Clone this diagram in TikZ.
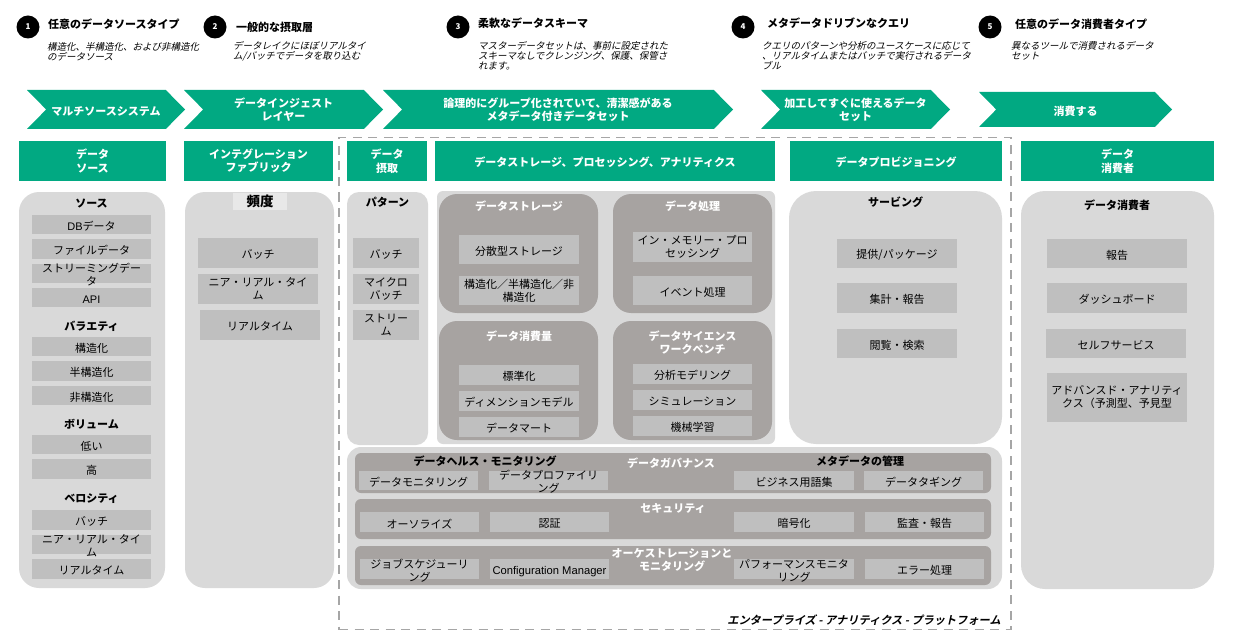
\documentclass[tikz,border=0pt]{standalone}
\usepackage{fontspec}
\setmainfont{Noto Sans CJK JP}
\newfontfamily\slantfont{Noto Sans CJK JP}[FakeSlant=0.22]
\newfontfamily\slantboldfont{Noto Sans CJK JP Bold}[FakeSlant=0.22]
\newfontfamily\latinfont{Liberation Sans}
\usepackage{xcolor}
\usetikzlibrary{positioning, shapes.symbols}
\definecolor{bandgreen}{HTML}{01A982}
\definecolor{panelgray}{HTML}{D9D9D9}
\definecolor{cellgray}{HTML}{BFBFBF}
\definecolor{darkgray}{HTML}{A7A3A1}
\definecolor{dashgray}{HTML}{A6A6A6}
\newcommand{\overcell}[2]{\raisebox{0.4pt}[0pt][0pt]{\begin{tabular}{@{}c@{}}#1\\#2\end{tabular}}}

\begin{document}
\begin{tikzpicture}[
  x=1pt, y=1pt,
  node distance=4.5pt,
  lowtext/.style={execute at begin node=\rule{0pt}{12.5pt}},
  stepnum/.style={circle, fill=black, text=white, minimum size=23pt, inner sep=0pt,
    font=\fontsize{8}{9}\selectfont\bfseries},
  steptitle/.style={anchor=west, inner sep=0pt, font=\fontsize{11}{12}\selectfont\bfseries},
  stepnote/.style={anchor=north west, inner sep=0pt, align=left,
    font=\fontsize{9.5}{10.3}\slantfont},
  chevron/.style={signal, signal from=west, signal to=east, signal pointer angle=91,
    fill=bandgreen, text=white, inner sep=0pt, minimum height=39pt, align=center, lowtext,
    font=\fontsize{11}{13.5}\selectfont\bfseries},
  band/.style={rectangle, fill=bandgreen, text=white, inner sep=0pt, minimum height=40pt,
    align=center, lowtext, font=\fontsize{11}{13.5}\selectfont\bfseries},
  panel/.style={rectangle, fill=panelgray, inner sep=0pt},
  darkpanel/.style={rectangle, fill=darkgray, rounded corners=18pt, minimum width=159pt,
    minimum height=119pt, inner sep=0pt},
  strip/.style={rectangle, fill=darkgray, rounded corners=6pt, minimum width=636pt,
    minimum height=40pt, inner sep=0pt},
  heading/.style={inner sep=0pt, align=center, font=\fontsize{11}{13}\selectfont\bfseries},
  darkheading/.style={heading, text=white},
  cell/.style={rectangle, fill=cellgray, inner sep=0pt, align=center, lowtext,
    font=\fontsize{11}{13}\selectfont},
  srccell/.style={cell, minimum width=119pt, minimum height=19.5pt},
  tallcell/.style={cell, minimum width=120pt, minimum height=29.5pt},
  flatcell/.style={cell, minimum width=120pt, minimum height=19.5pt},
  gridcell/.style={flatcell, minimum width=119.5pt},
  usecell/.style={cell, minimum width=140pt, minimum height=29.5pt}
]
  \useasboundingbox (0,0) rectangle (1233,-639);

  % numbered notes
  \node[stepnum] (num1) at (28,-27) {1};
  \node[stepnum] (num2) at (215,-27) {2};
  \node[stepnum] (num3) at (458,-27) {3};
  \node[stepnum] (num4) at (743,-27) {4};
  \node[stepnum] (num5) at (990,-27) {5};
  \node[steptitle] (title1) at (48,-24) {任意のデータソースタイプ};
  \node[steptitle] (title2) at (236,-27) {一般的な摂取層};
  \node[steptitle] (title3) at (478,-23) {柔軟なデータスキーマ};
  \node[steptitle] (title4) at (767,-23) {メタデータドリブンなクエリ};
  \node[steptitle] (title5) at (1015,-24) {任意のデータ消費者タイプ};
  \node[stepnote] (note1) at (47,-42) {構造化、半構造化、および非構造化\\のデータソース};
  \node[stepnote] (note2) at (233,-41) {データレイクにほぼリアルタイ\\ム/バッチでデータを取り込む};
  \node[stepnote] (note3) at (478,-41) {マスターデータセットは、事前に設定された\\スキーマなしでクレンジング、保護、保管さ\\れます。};
  \node[stepnote] (note4) at (762,-41) {クエリのパターンや分析のユースケースに応じて\\、リアルタイムまたはバッチで実行されるデータ\\ブル};
  \node[stepnote] (note5) at (1011,-41) {異なるツールで消費されるデータ\\セット};

  % chevrons
  \node[chevron, minimum width=158pt] (flow1) at (106,-109.5) {マルチソースシステム};
  \node[chevron, minimum width=199pt] (flow2) at (283.5,-109.5) {データインジェスト\\レイヤー};
  \node[chevron, minimum width=350pt] (flow3) at (558,-109.5) {論理的にグループ化されていて、清潔感がある\\メタデータ付きデータセット};
  \node[chevron, minimum width=189pt] (flow4) at (855.5,-109.5) {加工してすぐに使えるデータ\\セット};
  \node[chevron, minimum width=193pt, minimum height=35pt] (flow5) at (1075.5,-109.5) {消費する};

  % platform frame
  \node[rectangle, draw=dashgray, line width=1.5pt, dash pattern=on 9pt off 6.5pt, inner sep=0pt,
    minimum width=672pt, minimum height=492pt] (platform) at (675,-383.5) {};
  \node[anchor=east, inner sep=0pt, font=\fontsize{11.2}{13}\slantboldfont] (platformname)
    at (1001,-620) {エンタープライズ - アナリティクス - プラットフォーム};

  % column bands
  \node[band, minimum width=147pt] (bandsrc) at (92.5,-161) {データ\\ソース};
  \node[band, minimum width=149pt] (bandfab) at (258.5,-161) {インテグレーション\\ファブリック};
  \node[band, minimum width=80pt] (bandingest) at (387,-161) {データ\\摂取};
  \node[band, minimum width=340pt] (bandstore) at (605,-161) {データストレージ、プロセッシング、アナリティクス};
  \node[band, minimum width=212pt] (bandprov) at (896,-161) {データプロビジョニング};
  \node[band, minimum width=193pt] (banduse) at (1117.5,-161) {データ\\消費者};

  % source column
  \node[panel, rounded corners=20pt, minimum width=146pt, minimum height=396pt] (srcpanel) at (92,-390) {};
  \node[heading] (srchead) at (91.5,-203.5) {ソース};
  \node[srccell] (srcdb) at (91.5,-224.5) {{\latinfont DB}データ};
  \node[srccell, below=of srcdb] (srcfile) {ファイルデータ};
  \node[srccell, below=of srcfile] (srcstream) {\overcell{ストリーミングデー}{タ}};
  \node[srccell, below=of srcstream] (srcapi) {{\latinfont API}};
  \node[heading] (varhead) at (91.5,-326.5) {バラエティ};
  \node[srccell] (varstruct) at (91.5,-346.5) {構造化};
  \node[srccell, below=of varstruct] (varsemi) {半構造化};
  \node[srccell, below=of varsemi] (varnon) {非構造化};
  \node[heading] (volhead) at (91.5,-424.5) {ボリューム};
  \node[srccell] (vollow) at (91.5,-444.5) {低い};
  \node[srccell, below=of vollow] (volhigh) {高};
  \node[heading] (velhead) at (91.5,-498.5) {ベロシティ};
  \node[srccell] (velbatch) at (91.5,-520) {バッチ};
  \node[srccell, below=of velbatch] (velnear) {\overcell{ニア・リアル・タイ}{ム}};
  \node[srccell, below=of velnear] (velreal) {リアルタイム};

  % fabric column
  \node[panel, rounded corners=20pt, minimum width=149pt, minimum height=396pt] (fabpanel) at (259.5,-390) {};
  \node[rectangle, fill=panelgray!60, inner sep=0pt, minimum width=54pt, minimum height=17pt,
    font=\fontsize{13.5}{15}\selectfont\bfseries] (fabhead) at (260,-201.5) {頻度};
  \node[tallcell] (fabbatch) at (258,-253) {バッチ};
  \node[tallcell, below=6pt of fabbatch] (fabnear) {ニア・リアル・タイ\\ム};
  \node[tallcell, below=6pt of fabnear, xshift=2pt] (fabreal) {リアルタイム};

  % ingest column
  \node[panel, rounded corners=12pt, minimum width=81pt, minimum height=253pt] (patpanel) at (387.5,-318.5) {};
  \node[heading] (pathead) at (387.5,-202) {パターン};
  \node[tallcell, minimum width=66pt] (patbatch) at (386,-253) {バッチ};
  \node[tallcell, minimum width=66pt, below=6pt of patbatch] (patmicro) {マイクロ\\バッチ};
  \node[tallcell, minimum width=66pt, below=6pt of patmicro] (patstream) {ストリー\\ム};

  % storage and processing
  \node[panel, rounded corners=6pt, minimum width=338pt, minimum height=253pt] (midpanel) at (606,-317.5) {};
  \node[darkpanel] (storepanel) at (518.5,-253.5) {};
  \node[darkpanel] (procpanel) at (692.5,-253.5) {};
  \node[darkpanel] (conspanel) at (518.5,-380.5) {};
  \node[darkpanel] (sciepanel) at (692.5,-380.5) {};
  \node[darkheading] (storehead) at (519,-206.5) {データストレージ};
  \node[darkheading] (prochead) at (692.5,-206.5) {データ処理};
  \node[darkheading] (conshead) at (519,-336) {データ消費量};
  \node[darkheading] (sciehead) at (692.5,-342.5) {データサイエンス\\ワークベンチ};
  \node[tallcell] (storedist) at (519,-249.5) {分散型ストレージ};
  \node[tallcell] (storekind) at (519,-290.5) {構造化／半構造化／非\\構造化};
  \node[tallcell, minimum width=119pt] (procmem) at (692.5,-247) {イン・メモリー・プロ\\セッシング};
  \node[tallcell, minimum width=119pt] (procevent) at (692.5,-290.5) {イベント処理};
  \node[flatcell] (consnorm) at (519,-375) {標準化};
  \node[flatcell, below=6pt of consnorm] (consdim) {ディメンションモデル};
  \node[flatcell, below=6pt of consdim] (consmart) {データマート};
  \node[flatcell, minimum width=119pt] (sciemodel) at (692.5,-374) {分析モデリング};
  \node[flatcell, minimum width=119pt, below=6pt of sciemodel] (sciesim) {シミュレーション};
  \node[flatcell, minimum width=119pt, below=6pt of sciesim] (scieml) {機械学習};

  % provisioning column
  \node[panel, rounded corners=27pt, minimum width=213pt, minimum height=253pt] (srvpanel) at (895.5,-317.5) {};
  \node[heading] (srvhead) at (895.5,-202) {サービング};
  \node[tallcell] (srvpack) at (897,-253.5) {提供/パッケージ};
  \node[tallcell] (srvsum) at (897,-298) {集計・報告};
  \node[tallcell] (srvfind) at (897,-343.5) {閲覧・検索};

  % governance rows
  \node[panel, rounded corners=14pt, minimum width=655pt, minimum height=142pt] (govpanel) at (674.5,-518) {};
  \node[strip] (govstrip) at (673,-473) {};
  \node[strip] (secstrip) at (673,-519) {};
  \node[strip, minimum height=39pt] (opsstrip) at (673,-565.5) {};
  \node[heading] (healthhead) at (485,-461) {データヘルス・モニタリング};
  \node[heading] (metahead) at (860,-461) {メタデータの管理};
  \node[darkheading] (govhead) at (671,-463) {データガバナンス};
  \node[darkheading] (sechead) at (673,-508) {セキュリティ};
  \node[darkheading] (opshead) at (672,-560) {オーケストレーションと\\モニタリング};
  \node[gridcell] (govmon) at (418.5,-480.5) {データモニタリング};
  \node[gridcell] (govprof) at (548.5,-480.5) {\overcell{データプロファイリ}{ング}};
  \node[gridcell] (govterm) at (794,-480.5) {ビジネス用語集};
  \node[gridcell] (govtag) at (923.5,-480.5) {データタギング};
  \node[gridcell] (secauth) at (419.5,-522) {オーソライズ};
  \node[gridcell] (seccert) at (549.5,-522) {認証};
  \node[gridcell] (seccrypt) at (794,-522) {暗号化};
  \node[gridcell] (secaudit) at (924.5,-522) {監査・報告};
  \node[gridcell] (opsjob) at (419.5,-569) {\overcell{ジョブスケジューリ}{ング}};
  \node[gridcell, font=\fontsize{11.2}{13}\latinfont] (opsconf) at (549.5,-569) {Configuration Manager};
  \node[gridcell] (opsperf) at (794,-569) {\overcell{パフォーマンスモニタ}{リング}};
  \node[gridcell] (opserr) at (924.5,-569) {エラー処理};

  % consumer column
  \node[panel, rounded corners=24pt, minimum width=193pt, minimum height=398pt] (usepanel) at (1117.5,-390) {};
  \node[heading] (usehead) at (1117,-205) {データ消費者};
  \node[usecell] (usereport) at (1117,-253.5) {報告};
  \node[usecell] (usedash) at (1117,-298) {ダッシュボード};
  \node[usecell] (useself) at (1116,-343.5) {セルフサービス};
  \node[usecell, minimum height=49pt] (useadv) at (1117,-397.5) {アドバンスド・アナリティ\\クス（予測型、予見型};
\end{tikzpicture}
\end{document}
